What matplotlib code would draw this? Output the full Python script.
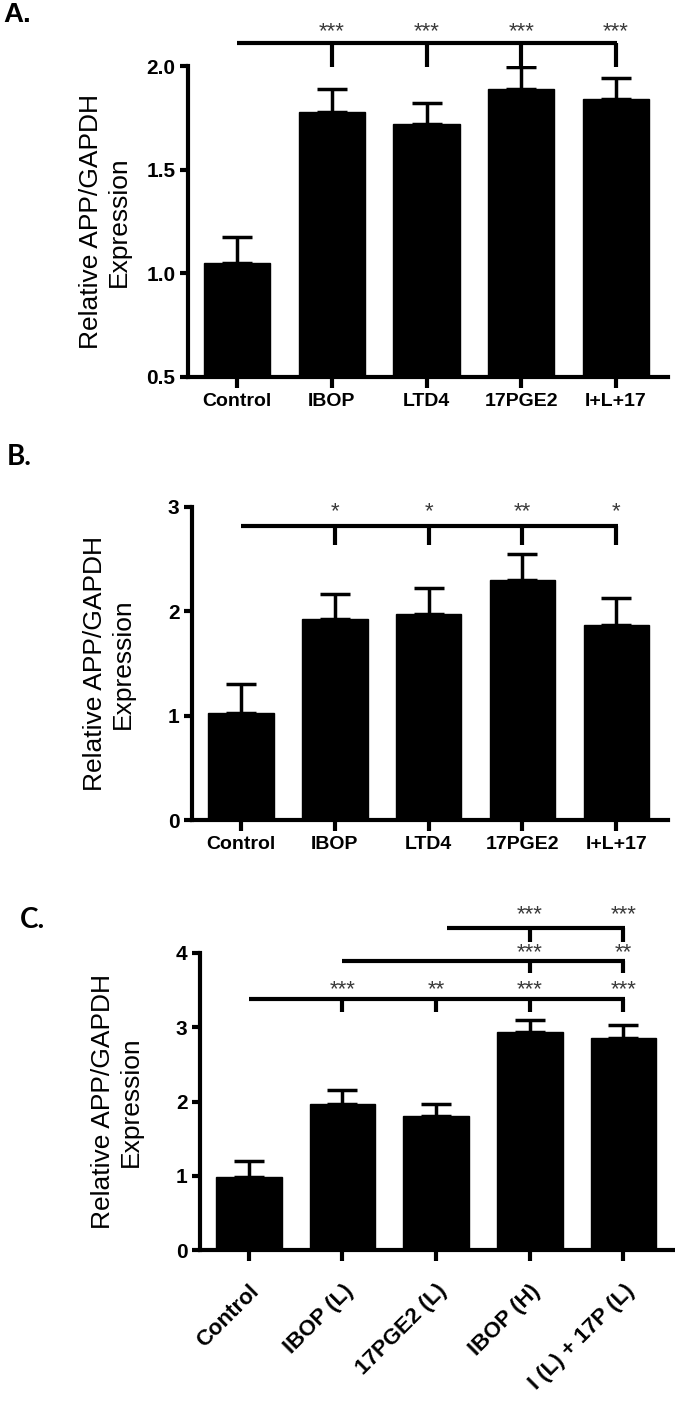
import matplotlib
matplotlib.use("Agg")
import matplotlib.pyplot as plt
import numpy as np

plt.rcParams['font.family'] = ['Liberation Sans', 'DejaVu Sans']

# ---- data ----
cats_a = ["Control", "IBOP", "LTD4", "17PGE2", "I+L+17"]
vals_a = [1.05, 1.78, 1.72, 1.89, 1.84]
errs_a = [0.125, 0.11, 0.10, 0.105, 0.10]
ticks_a = [0.5, 1.0, 1.5, 2.0]
ticklabels_a = ["0.5", "1.0", "1.5", "2.0"]

cats_b = ["Control", "IBOP", "LTD4", "17PGE2", "I+L+17"]
vals_b = [1.03, 1.93, 1.97, 2.30, 1.87]
errs_b = [0.27, 0.24, 0.25, 0.25, 0.26]
ticks_b = [0, 1, 2, 3]

cats_c = ["Control", "IBOP (L)", "17PGE2 (L)", "IBOP (H)", "I (L) + 17P (L)"]
vals_c = [0.98, 1.97, 1.80, 2.93, 2.85]
errs_c = [0.22, 0.18, 0.17, 0.17, 0.18]
ticks_c = [0, 1, 2, 3, 4]

# significance brackets: (start index, [drop indices], [labels], bar height, drop end, star height)
sig_a = [(0, [1, 2, 3, 4], ["***", "***", "***", "***"], 2.11, 1.995, 2.18)]
sig_b = [(0, [1, 2, 3, 4], ["*", "*", "**", "*"], 2.82, 2.64, 2.98)]
sig_c = [
    (0, [1, 2, 3, 4], ["***", "**", "***", "***"], 3.38, 3.20, 3.55),
    (1, [3, 4], ["***", "**"], 3.89, 3.73, 4.04),
    (2, [3, 4], ["***", "***"], 4.34, 4.15, 4.55),
]

W, H = 675, 1407
fig = plt.figure(figsize=(W / 100, H / 100), dpi=100)


def make_axes(l, r, t, b):
    return fig.add_axes([l / W, 1 - b / H, (r - l) / W, (b - t) / H])


def draw_panel(ax, cats, vals, errs, ylim, ticks, ticklabels, sig, rot=False,
               start_shift=None):
    x = np.arange(len(cats))
    ax.bar(x, vals, width=0.70, color="black", edgecolor="black", zorder=2)
    ax.errorbar(x, vals, yerr=[np.zeros(len(errs)), errs], fmt="none",
                ecolor="black", elinewidth=2.5, capsize=11, capthick=2.5, zorder=3)
    ax.set_xlim(-0.52, len(cats) - 0.45)
    ax.set_ylim(*ylim)
    ax.set_yticks(ticks)
    ax.set_yticklabels(ticklabels, fontsize=15, fontweight="bold")
    ax.set_xticks(x)
    if rot:
        ax.set_xticklabels(cats, fontsize=16, fontweight="bold", rotation=45,
                           ha="right", rotation_mode="anchor")
        ax.tick_params(axis="x", pad=14)
    else:
        ax.set_xticklabels(cats, fontsize=14, fontweight="bold")
    for s in ["top", "right"]:
        ax.spines[s].set_visible(False)
    for s in ["left", "bottom"]:
        ax.spines[s].set_linewidth(3)
    ax.tick_params(axis="both", width=3, length=8)
    ax.tick_params(axis="y", length=6, pad=3)
    ax.set_ylabel("Relative APP/GAPDH\nExpression", fontsize=19, linespacing=1.2)
    ax.yaxis.set_label_coords(-0.12, 0.5)
    for k, (start, drops, labels, hy, dy, sy) in enumerate(sig):
        x0 = x[start] + (start_shift[k] if start_shift else 0)
        ax.plot([x0, x[drops[-1]] + 0.015], [hy, hy], color="black", lw=3,
                clip_on=False, solid_capstyle="butt", zorder=4)
        for d, lab in zip(drops, labels):
            ax.plot([x[d], x[d]], [hy, dy], color="black", lw=3,
                    clip_on=False, solid_capstyle="butt", zorder=4)
            ax.annotate(lab, (x[d], sy), xytext=(0, -6), textcoords="offset points",
                        ha="center", va="baseline", fontsize=16, color="#3a3a3a",
                        annotation_clip=False)


axA = make_axes(188, 668, 66, 377)
draw_panel(axA, cats_a, vals_a, errs_a, (0.5, 2.0), ticks_a, ticklabels_a, sig_a)

axB = make_axes(192, 668, 507, 820)
draw_panel(axB, cats_b, vals_b, errs_b, (0, 3), ticks_b, [str(t) for t in ticks_b], sig_b)

axC = make_axes(200, 675, 953, 1250)
draw_panel(axC, cats_c, vals_c, errs_c, (0, 4), ticks_c, [str(t) for t in ticks_c], sig_c,
           rot=True, start_shift=[0, 0, 0.12])

lab_font = ['Lato', 'Liberation Sans', 'DejaVu Sans']
fig.text(3 / W, 1 - 15 / H, "A.", fontsize=20, fontweight="bold", va="center",
         family=['Liberation Sans', 'DejaVu Sans'])
fig.text(7 / W, 1 - 457 / H, "B.", fontsize=20, fontweight="bold", va="center",
         family=lab_font)
fig.text(20 / W, 1 - 920 / H, "C.", fontsize=20, fontweight="bold", va="center",
         family=lab_font)

fig.savefig("out.png", dpi=100)
